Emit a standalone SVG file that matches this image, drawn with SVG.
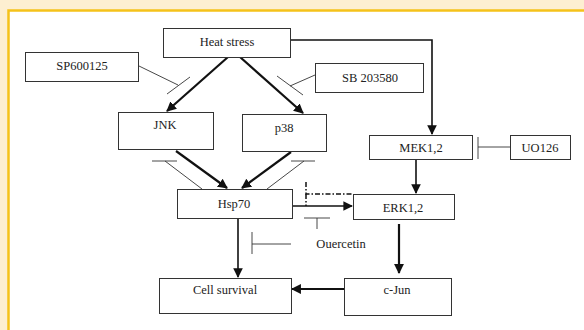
<svg xmlns="http://www.w3.org/2000/svg" width="584" height="330" viewBox="0 0 584 330">
<style>
.box{fill:#fff;stroke:#333;stroke-width:1}
text{font-family:'Liberation Serif','Times New Roman',serif;font-size:12.5px;fill:#222;text-anchor:middle}
.thick{stroke:#111;stroke-width:2.2;fill:none}
.med{stroke:#111;stroke-width:1.6;fill:none}
.thin{stroke:#333;stroke-width:0.9;fill:none}
.dd{stroke:#111;stroke-width:1.5;fill:none;stroke-dasharray:5 2 1.5 2}
</style>
<defs>
<marker id="ah" viewBox="0 0 10 10" refX="9" refY="5" markerWidth="4.5" markerHeight="4.5" markerUnits="strokeWidth" orient="auto">
<path d="M0,0 L10,5 L0,10 z" fill="#111"/>
</marker>
<marker id="ahs" viewBox="0 0 10 10" refX="9" refY="5" markerWidth="6" markerHeight="6" markerUnits="strokeWidth" orient="auto">
<path d="M0,0 L10,5 L0,10 z" fill="#111"/>
</marker>
</defs>
<rect x="0" y="0" width="584" height="330" fill="#fdefd1"/>
<rect x="8.5" y="10.5" width="590" height="330" fill="#fff" stroke="#f5c21a" stroke-width="2.5"/>

<g id="connectors">
<line class="thick" x1="228" y1="57" x2="167" y2="111" marker-end="url(#ah)"/>
<line class="thick" x1="240" y1="57" x2="303" y2="113" marker-end="url(#ah)"/>
<line class="thin" x1="139" y1="66" x2="178" y2="85"/>
<line class="thin" x1="167" y1="94" x2="190" y2="77"/>
<line class="thin" x1="315" y1="75" x2="290" y2="86"/>
<line class="thin" x1="277" y1="76" x2="303" y2="95"/>
<polyline class="med" points="291,40 432,40 432,134" marker-end="url(#ahs)"/>
<line class="thin" x1="510" y1="147" x2="478" y2="147"/>
<line class="thin" x1="478" y1="137" x2="478" y2="159"/>
<line class="med" x1="416" y1="159" x2="416" y2="193" marker-end="url(#ahs)"/>
<line class="thick" x1="176" y1="151" x2="227" y2="188" marker-end="url(#ah)"/>
<line class="thick" x1="291" y1="152" x2="242" y2="188" marker-end="url(#ah)"/>
<line class="thin" x1="202" y1="189" x2="165" y2="161"/>
<line class="thin" x1="152" y1="161" x2="177" y2="161"/>
<line class="thin" x1="267" y1="189" x2="304" y2="161"/>
<line class="thin" x1="291" y1="161" x2="315" y2="161"/>
<line class="med" x1="292" y1="206" x2="352" y2="206" marker-end="url(#ahs)"/>
<polyline class="dd" points="306,182 306,194 353,194"/>
<line class="dd" x1="306" y1="194" x2="306" y2="206"/>
<line class="thin" x1="304" y1="218" x2="330" y2="218"/>
<line class="thin" x1="317" y1="218" x2="317" y2="229"/>
<line class="thin" x1="291" y1="244" x2="252" y2="244"/>
<line class="thin" x1="252" y1="232" x2="252" y2="254"/>
<line class="med" x1="238" y1="218" x2="238" y2="277" marker-end="url(#ahs)"/>
<line class="thick" x1="399" y1="224" x2="399" y2="273" marker-end="url(#ah)"/>
<line class="thick" x1="344" y1="289" x2="292" y2="289" marker-end="url(#ah)"/>
</g>

<g id="heat"><rect class="box" x="163.5" y="28.5" width="127" height="29"/><text x="227" y="46">Heat stress</text></g>
<g id="sp"><rect class="box" x="25.5" y="52.5" width="113" height="29"/><text x="82" y="70">SP600125</text></g>
<g id="sb"><rect class="box" x="315.5" y="63.5" width="108" height="29"/><text x="370" y="82">SB 203580</text></g>
<g id="jnk"><rect class="box" x="118.5" y="112.5" width="95" height="37"/><text x="165" y="129">JNK</text></g>
<g id="p38"><rect class="box" x="242.5" y="114.5" width="84" height="37"/><text x="284" y="132">p38</text></g>
<g id="mek"><rect class="box" x="369.5" y="135.5" width="103" height="24"/><text x="421" y="152">MEK1,2</text></g>
<g id="uo"><rect class="box" x="510.5" y="135.5" width="60" height="24"/><text x="540" y="152">UO126</text></g>
<g id="hsp"><rect class="box" x="177.5" y="189.5" width="115" height="29"/><text x="234" y="208">Hsp70</text></g>
<g id="erk"><rect class="box" x="353.5" y="194.5" width="101" height="25"/><text x="403" y="212">ERK1,2</text></g>
<g id="quercetin"><text x="341" y="248">Ouercetin</text></g>
<g id="cell"><rect class="box" x="159.5" y="278.5" width="132" height="35"/><text x="225" y="294">Cell survival</text></g>
<g id="cjun"><rect class="box" x="344.5" y="278.5" width="107" height="37"/><text x="397" y="294">c-Jun</text></g>
</svg>
